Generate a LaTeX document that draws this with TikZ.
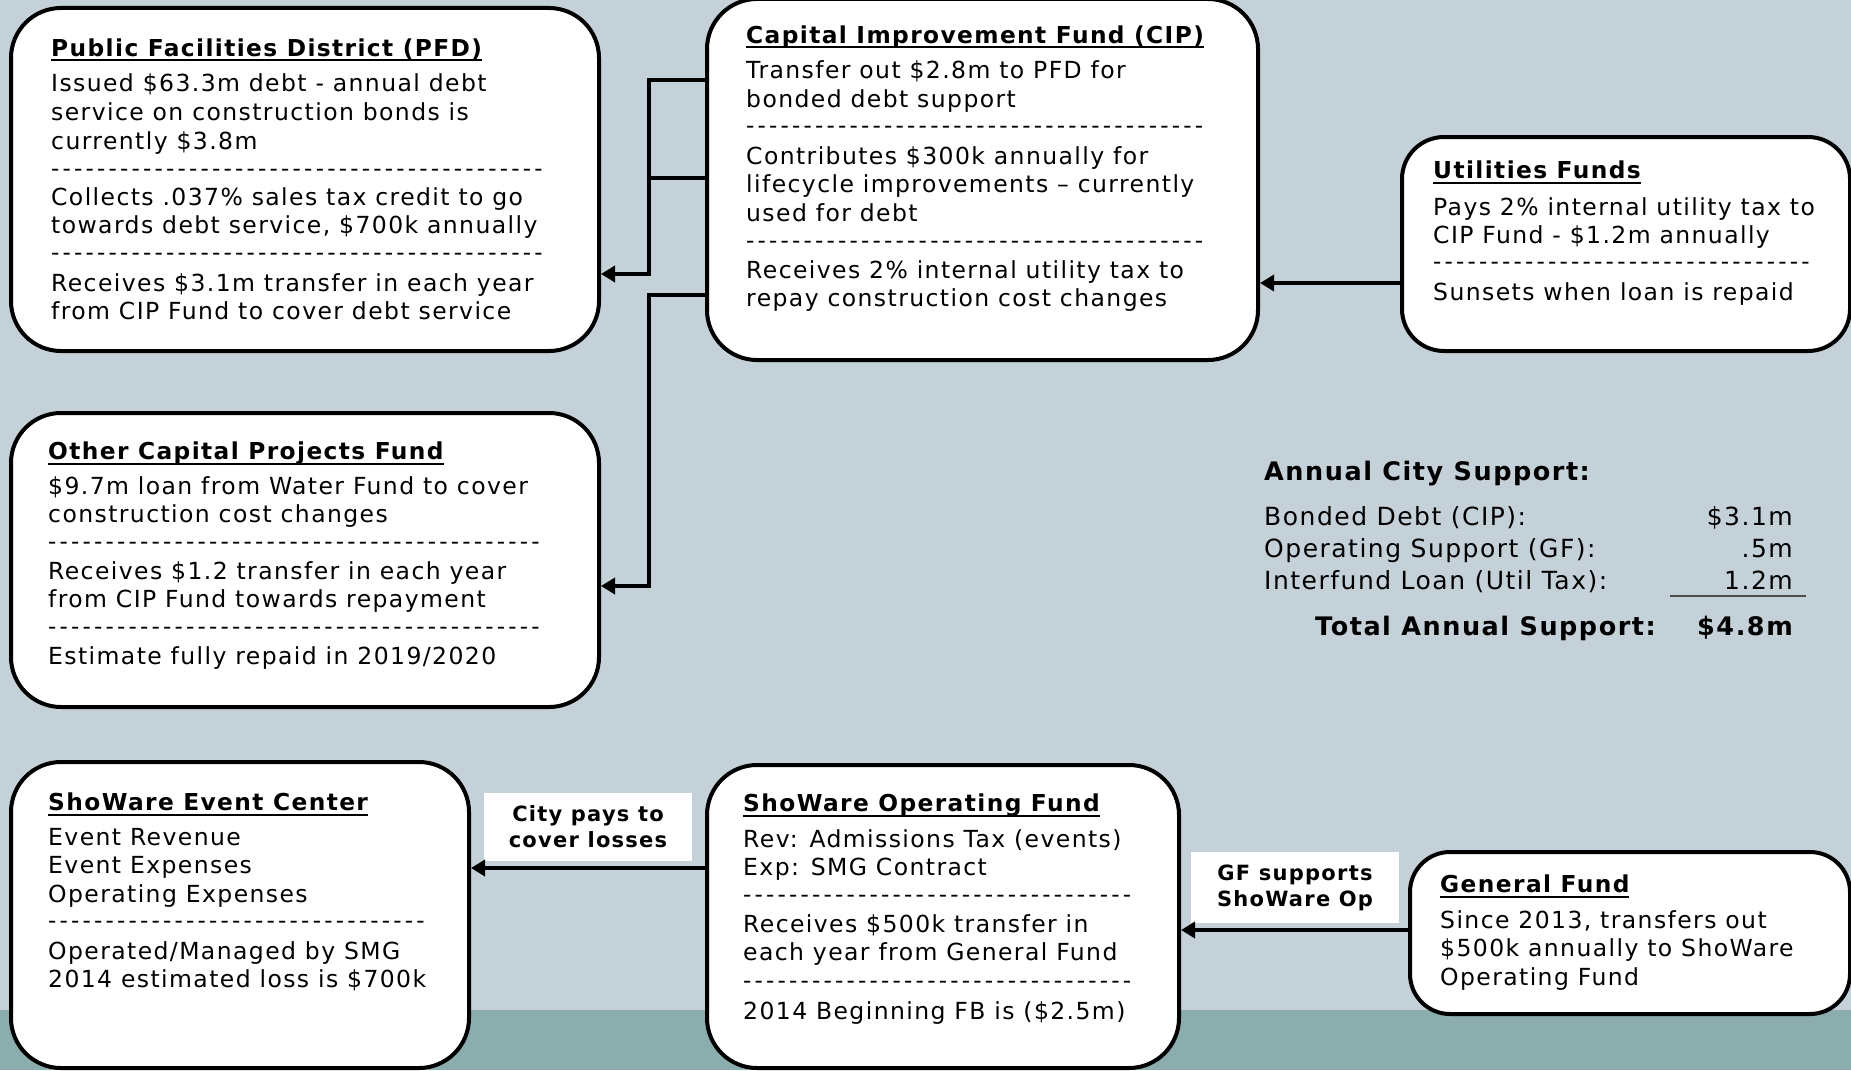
\documentclass[tikz,border=0pt]{standalone}
\usepackage{fontspec}
\setmainfont{DejaVu Sans}[LetterSpace=6]
\newfontfamily\dashf{DejaVu Sans}
\usetikzlibrary{arrows.meta}
\ExplSyntaxOn
\NewDocumentCommand\hy{m}{\prg_replicate:nn{#1}{-\kern3.2pt}}
\ExplSyntaxOff
\newcommand\myul[1]{\setbox0=\hbox{#1}\rlap{\rule[-5pt]{\wd0}{2pt}}\box0}
\newcommand\mylines[4]{\foreach \ltext [count=\i] in {#4}{\node[txt] (#1\i) at (#2,{#3+8+(\i-1)*28.5}) {\ltext};}}
\definecolor{bgc}{HTML}{C5D1D8}
\definecolor{bandc}{HTML}{8BADAD}
\begin{document}
\begin{tikzpicture}[x=1pt,y=-1pt,
 box/.style={draw=black, line width=4pt, fill=white, rounded corners=#1, anchor=north west, inner sep=0pt},
 box/.default=50pt,
 txt/.style={anchor=base west, inner sep=0pt, font=\fontsize{23.5}{28}\selectfont},
 ttl/.style={anchor=base west, inner sep=0pt, font=\fontsize{23.3}{28}\selectfont\bfseries},
 big/.style={anchor=base west, inner sep=0pt, font=\fontsize{25}{30}\selectfont},
 bigb/.style={big, font=\fontsize{25.5}{30}\selectfont\bfseries},
 dsh/.style={anchor=base west, inner sep=0pt, font=\fontsize{23}{28}\dashf},
 arr/.style={line width=4pt, -{Triangle[length=14pt,width=16pt]}},
 ln/.style={line width=4pt},
 lbl/.style={fill=white, inner sep=0pt, align=center, font=\fontsize{21}{26}\selectfont\bfseries},
]
\useasboundingbox (0,0) rectangle (1851,1070);
\clip (0,0) rectangle (1851,1070);
\fill[bgc] (0,0) rectangle (1851,1010);
\fill[bandc] (0,1010) rectangle (1851,1070);

% boxes
\node[box, minimum width=588pt, minimum height=343pt] (pfd) at (9,6) {};
\node[box, minimum width=551pt, minimum height=361pt] (cip) at (705,-3) {};
\node[box=42pt, minimum width=448pt, minimum height=214pt] (util) at (1400,135) {};
\node[box, minimum width=588pt, minimum height=294pt] (other) at (9,411) {};
\node[box, minimum width=458pt, minimum height=306pt] (event) at (9,760) {};
\node[box, minimum width=472pt, minimum height=303pt] (op) at (705,763) {};
\node[box=40pt, minimum width=440pt, minimum height=162pt] (gf) at (1408,850) {};

% labels
\node[lbl, minimum width=208pt, minimum height=68pt] (lab1) at (588,827) {City pays to\\cover losses};
\node[lbl, minimum width=208pt, minimum height=71pt] (lab2) at (1295,887.5) {GF supports\\ShoWare Op};

% connectors
\coordinate (ja) at (649,274);
\coordinate (jb) at (649,586);
\draw[arr] (cip.west |- 0,80) -| (ja) -- (pfd.east |- ja);
\draw[ln] (cip.west |- 0,178) -- (649,178);
\draw[arr] (cip.west |- 0,295) -| (jb) -- (other.east |- jb);
\draw[arr] (util.west |- 0,283) -- (cip.east |- 0,283);
\draw[arr] (op.west |- 0,868) -- (event.east |- 0,868);
\draw[arr] (gf.west |- 0,930) -- (op.east |- 0,930);

% PFD
\node[ttl] (pfdt) at (51,56.5) {\myul{Public Facilities District (PFD)}};
\mylines{pfda}{51}{84}{Issued \$63.3m debt - annual debt,service on construction bonds is,currently \$3.8m}
\node[dsh] (pfdd1) at (51,176) {\hy{43}};
\mylines{pfdb}{51}{197}{Collects .037\% sales tax credit to go,{towards debt service, \$700k annually}}
\node[dsh] (pfdd2) at (51,260) {\hy{43}};
\mylines{pfdc}{51}{283}{Receives \$3.1m transfer in each year,from CIP Fund to cover debt service}

% CIP
\node[ttl] (cipt) at (746,43.5) {\myul{Capital Improvement Fund (CIP)}};
\mylines{cipa}{746}{71}{Transfer out \$2.8m to PFD for,bonded debt support}
\node[dsh] (cipd1) at (746,133) {\hy{40}};
\mylines{cipb}{746}{156}{Contributes \$300k annually for,lifecycle improvements – currently,used for debt}
\node[dsh] (cipd2) at (746,248) {\hy{40}};
\mylines{cipc}{746}{270}{Receives 2\% internal utility tax to,repay construction cost changes}

% Utilities
\node[ttl] (utilt) at (1433,178.5) {\myul{Utilities Funds}};
\mylines{utila}{1433}{207}{Pays 2\% internal utility tax to,CIP Fund - \$1.2m annually}
\node[dsh] (utild1) at (1433,269) {\hy{33}};
\mylines{utilb}{1433}{292}{Sunsets when loan is repaid}

% Other
\node[ttl] (otht) at (48,459.5) {\myul{Other Capital Projects Fund}};
\mylines{otha}{48}{486}{\$9.7m loan from Water Fund to cover,construction cost changes}
\node[dsh] (othd1) at (48,549) {\hy{43}};
\mylines{othb}{48}{571}{Receives \$1.2 transfer in each year,from CIP Fund towards repayment}
\node[dsh] (othd2) at (48,634) {\hy{43}};
\mylines{othc}{48}{656}{Estimate fully repaid in 2019/2020}

% Event
\node[ttl] (evt) at (48,810.5) {\myul{ShoWare Event Center}};
\mylines{eva}{48}{837}{Event Revenue,Event Expenses,Operating Expenses}
\node[dsh] (evd1) at (48,928) {\hy{33}};
\mylines{evb}{48}{951}{Operated/Managed by SMG,2014 estimated loss is \$700k}

% Op
\node[ttl] (opt) at (743,811.5) {\myul{ShoWare Operating Fund}};
\mylines{opa}{743}{839}{Rev: Admissions Tax (events),Exp: SMG Contract}
\node[dsh] (opd1) at (743,902) {\hy{34}};
\mylines{opb}{743}{924}{Receives \$500k transfer in,each year from General Fund}
\node[dsh] (opd2) at (743,988) {\hy{34}};
\mylines{opc}{743}{1011}{2014 Beginning FB is (\$2.5m)}

% GF
\node[ttl] (gft) at (1440,892.5) {\myul{General Fund}};
\mylines{gfa}{1440}{920}{{Since 2013, transfers out},\$500k annually to ShoWare,Operating Fund}

% Annual support
\node[bigb] (ant) at (1264,480) {Annual City Support:};
\node[big] (an1) at (1264,525) {Bonded Debt (CIP):};
\node[big] (an2) at (1264,557) {Operating Support (GF):};
\node[big] (an3) at (1264,589) {Interfund Loan (Util Tax):};
\node[big, anchor=base east] (av1) at (1793,525) {\$3.1m};
\node[big, anchor=base east] (av2) at (1793,557) {.5m};
\node[big, anchor=base east] (av3) at (1793,589) {1.2m};
\draw[line width=1.5pt, black!70] (1670,596) -- (1806,596);
\node[bigb, anchor=base east] (antot) at (1656,635) {Total Annual Support:};
\node[bigb, anchor=base east] (avtot) at (1793,635) {\$4.8m};
\end{tikzpicture}
\end{document}
